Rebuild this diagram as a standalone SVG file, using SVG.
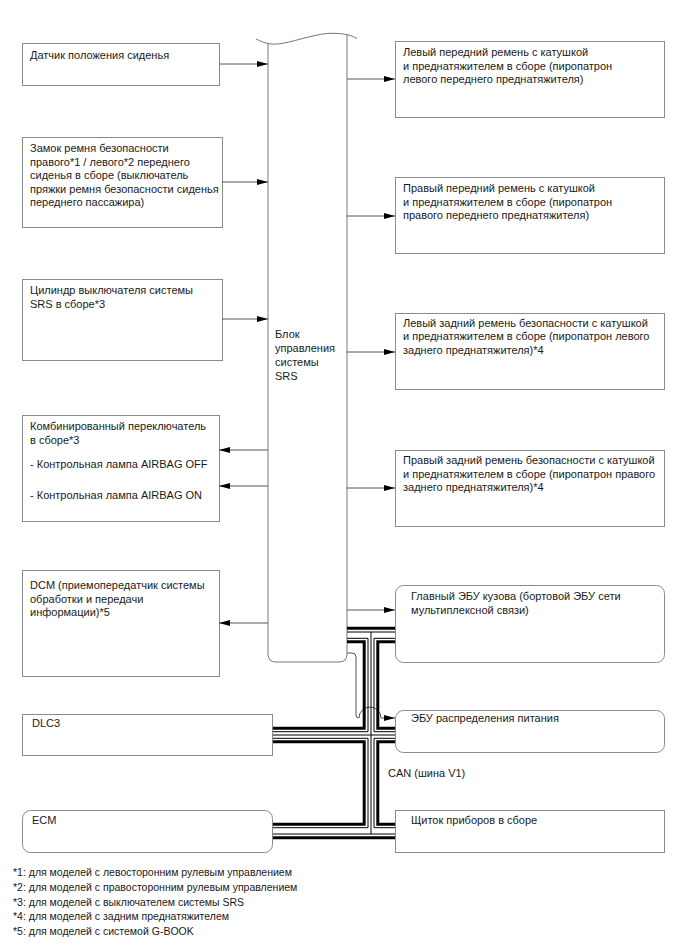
<svg xmlns="http://www.w3.org/2000/svg" width="688" height="949" viewBox="0 0 688 949">
<style>
text{font-family:"Liberation Sans",Arial,sans-serif;font-size:11px;fill:#1a1a1a}
.box{fill:#fff;stroke:#8a8a8a;stroke-width:1}
.blk{fill:#fff;stroke:#777;stroke-width:1}
.con{fill:none;stroke:#555;stroke-width:1}
.thk{fill:none;stroke:#000;stroke-width:3}
.thn{fill:none;stroke:#000;stroke-width:1}
.fn{font-size:10.5px}
</style>
<defs>
<marker id="ah" markerUnits="userSpaceOnUse" markerWidth="11" markerHeight="8" refX="11" refY="4" orient="auto">
<path d="M0,1 L11,4 L0,7 z" fill="#000"/>
</marker>
</defs>

<g id="srs-block">
<path class="blk" d="M268,43 V654 Q268,662 276,662 H339 Q347,662 347,654 V35"/>
<path class="con" d="M256,39 C266,44 272,45 282,43.5 C300,40 318,33 333,33.3 C345,33.5 351,35 357,38.5" style="stroke:#777"/>
<text x="275" y="338">Блок</text>
<text x="275" y="352">управления</text>
<text x="275" y="366">системы</text>
<text x="275" y="380">SRS</text>
</g>

<g id="seat-pos">
<rect class="box" x="22.5" y="43.5" width="197" height="42"/>
<text x="30" y="59">Датчик положения сиденья</text>
</g>

<g id="buckle">
<rect class="box" x="22.5" y="137.5" width="200" height="90"/>
<text x="30" y="152">Замок ремня безопасности</text>
<text x="30" y="165.5">правого*1 / левого*2 переднего</text>
<text x="30" y="179">сиденья в сборе (выключатель</text>
<text x="30" y="192.5">пряжки ремня безопасности сиденья</text>
<text x="30" y="206">переднего пассажира)</text>
</g>

<g id="srs-switch">
<rect class="box" x="22.5" y="279.5" width="200" height="81"/>
<text x="30" y="294">Цилиндр выключателя системы</text>
<text x="30" y="307.5">SRS в сборе*3</text>
</g>

<g id="combo-switch">
<rect class="box" x="22.5" y="415.5" width="197" height="106"/>
<text x="30" y="430">Комбинированный переключатель</text>
<text x="30" y="443.5">в сборе*3</text>
<text x="30" y="468">- Контрольная лампа AIRBAG OFF</text>
<text x="30" y="499">- Контрольная лампа AIRBAG ON</text>
</g>

<g id="dcm">
<rect class="box" x="22.5" y="570.5" width="197" height="106"/>
<text x="30" y="589">DCM (приемопередатчик системы</text>
<text x="30" y="602.5">обработки и передачи</text>
<text x="30" y="616">информации)*5</text>
</g>

<g id="dlc3">
<rect class="box" x="22.5" y="714.5" width="250" height="41"/>
<text x="32" y="727">DLC3</text>
</g>

<g id="ecm">
<rect class="box" x="22.5" y="810.5" width="250" height="42" rx="8"/>
<text x="32" y="824">ECM</text>
</g>

<g id="lf-pretensioner">
<rect class="box" x="395.5" y="41.5" width="269" height="76"/>
<text x="403" y="56">Левый передний ремень с катушкой</text>
<text x="403" y="69.5">и преднатяжителем в сборе (пиропатрон</text>
<text x="403" y="83">левого переднего преднатяжителя)</text>
</g>

<g id="rf-pretensioner">
<rect class="box" x="395.5" y="177.5" width="269" height="76"/>
<text x="403" y="192">Правый передний ремень с катушкой</text>
<text x="403" y="205.5">и преднатяжителем в сборе (пиропатрон</text>
<text x="403" y="219">правого переднего преднатяжителя)</text>
</g>

<g id="lr-pretensioner">
<rect class="box" x="395.5" y="313.5" width="269" height="76"/>
<text x="403" y="326.5">Левый задний ремень безопасности с катушкой</text>
<text x="403" y="340">и преднатяжителем в сборе (пиропатрон левого</text>
<text x="403" y="353.5">заднего преднатяжителя)*4</text>
</g>

<g id="rr-pretensioner">
<rect class="box" x="395.5" y="450.5" width="269" height="76"/>
<text x="403" y="464">Правый задний ремень безопасности с катушкой</text>
<text x="403" y="477.5">и преднатяжителем в сборе (пиропатрон правого</text>
<text x="403" y="491">заднего преднатяжителя)*4</text>
</g>

<g id="main-body-ecu">
<rect class="box" x="395.5" y="585.5" width="269" height="77" rx="8"/>
<text x="411" y="600">Главный ЭБУ кузова (бортовой ЭБУ сети</text>
<text x="411" y="613.5">мультиплексной связи)</text>
</g>

<g id="power-ecu">
<rect class="box" x="395.5" y="710.5" width="269" height="42" rx="8"/>
<text x="411" y="722">ЭБУ распределения питания</text>
</g>

<g id="combination-meter">
<rect class="box" x="395.5" y="810.5" width="269" height="42"/>
<text x="411" y="824">Щиток приборов в сборе</text>
</g>

<g id="connectors">
<path class="con" d="M219,64 H268" marker-end="url(#ah)"/>
<path class="con" d="M222,182 H268" marker-end="url(#ah)"/>
<path class="con" d="M222,319 H268" marker-end="url(#ah)"/>
<path class="con" d="M268,450 H219" marker-end="url(#ah)"/>
<path class="con" d="M268,486 H219" marker-end="url(#ah)"/>
<path class="con" d="M268,623 H219" marker-end="url(#ah)"/>
<path class="con" d="M347,79 H395" marker-end="url(#ah)"/>
<path class="con" d="M347,216 H395" marker-end="url(#ah)"/>
<path class="con" d="M347,352 H395" marker-end="url(#ah)"/>
<path class="con" d="M347,488 H395" marker-end="url(#ah)"/>
<path class="con" d="M347,610 H395" marker-end="url(#ah)"/>
<path class="con" d="M347,653 H352 Q356,653 356,657 V715 Q356,718 359,718 A11,11 0 0 1 381,718 H395" marker-end="url(#ah)"/>
</g>

<g id="can-bus">
<path class="thk" d="M347,628.3 H395"/>
<path class="thn" d="M347,632 H395"/>
<path class="thn" d="M371,632 V834"/>
<path class="thn" d="M347,638.3 H368 V731.7 H273"/>
<path class="thk" d="M347,641.7 H364.2 V728.3 H273"/>
<path class="thn" d="M395,638.3 H374 V731.7 H395"/>
<path class="thk" d="M395,641.7 H377.8 V728.3 H395"/>
<path class="thn" d="M273,735 H395"/>
<path class="thn" d="M273,738.3 H368 V827.7 H273"/>
<path class="thk" d="M273,741.7 H364.2 V824.3 H273"/>
<path class="thn" d="M395,738.3 H374 V827.7 H395"/>
<path class="thk" d="M395,741.7 H377.8 V824.3 H395"/>
<path class="thn" d="M273,834 H395"/>
<path class="thk" d="M273,837.7 H395"/>
<text x="388" y="777">CAN (шина V1)</text>
</g>

<g id="footnotes">
<text class="fn" x="13" y="876">*1: для моделей с левосторонним рулевым управлением</text>
<text class="fn" x="13" y="891">*2: для моделей с правосторонним рулевым управлением</text>
<text class="fn" x="13" y="905.5">*3: для моделей с выключателем системы SRS</text>
<text class="fn" x="13" y="920">*4: для моделей с задним преднатяжителем</text>
<text class="fn" x="13" y="934.5">*5: для моделей с системой G-BOOK</text>
</g>
</svg>
